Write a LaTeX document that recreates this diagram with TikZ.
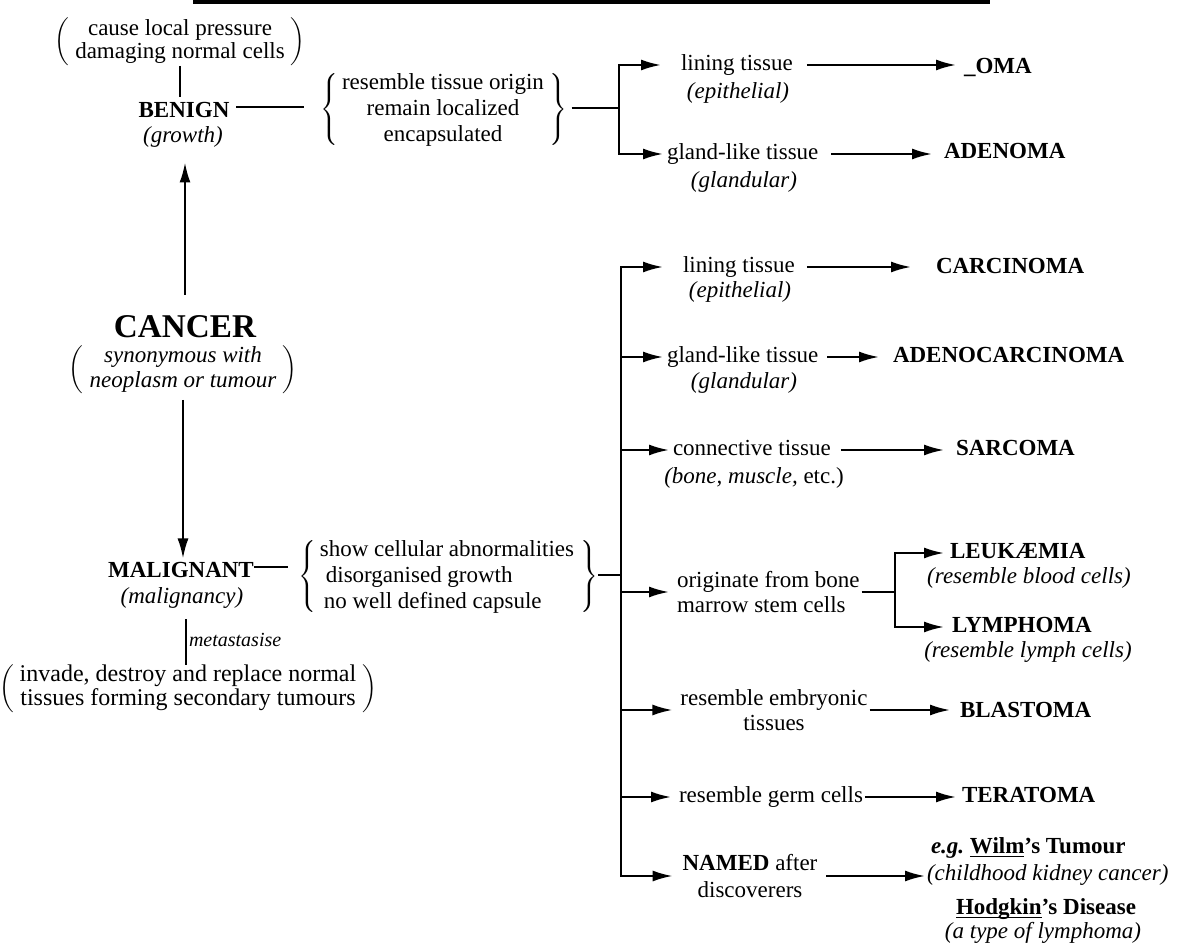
\documentclass[tikz,border=0pt]{standalone}
\usepackage{fontspec}
\setmainfont{Liberation Serif}
\usetikzlibrary{arrows.meta}
\newcommand{\parblk}[2]{\renewcommand{\arraystretch}{#1}$\left(\begin{tabular}{@{\hspace{3pt}}c@{\hspace{3pt}}}#2\end{tabular}\right)$}
\newcommand{\brcblk}[3]{\renewcommand{\arraystretch}{#1}$\left\{\begin{tabular}{@{\hspace{2pt}}#2@{\hspace{3pt}}}#3\end{tabular}\right\}$}
\newcommand{\ulbase}[1]{\underline{\smash{#1}}}
\begin{document}
\begin{tikzpicture}[x=0.5pt,y=-0.5pt,
  every node/.style={inner sep=0pt,outer sep=0pt},
  txt/.style={font=\fontsize{11.5}{13}\selectfont,text height=8pt,text depth=2.5pt},
  bld/.style={font=\fontsize{11.5}{13}\selectfont\bfseries,text height=8pt,text depth=2.5pt},
  itl/.style={font=\fontsize{11.5}{13}\selectfont\itshape,text height=8pt,text depth=2.5pt},
  blk/.style={font=\fontsize{11.5}{13}\selectfont},
  conn/.style={line width=1.1pt},
  arr/.style={line width=1.1pt,-{Latex[length=10pt,width=5.5pt]}},
  arrb/.style={line width=1.1pt,{Latex[length=10pt,width=5.5pt]}-{Latex[length=10pt,width=5.5pt]}},
]
\useasboundingbox (0,0) rectangle (1183,945);
\draw[line width=1.6pt] (193,2) -- (990,2);

% ---------- left column ----------
\node[blk] (cause) at (180,42) {\parblk{0.885}{cause local pressure\\damaging normal cells}};
\node[bld] (benign) at (184,112) {BENIGN};
\node[itl] (growth) at (183,137) {(growth)};
\node[font=\fontsize{16.6}{19}\selectfont\bfseries] (cancer) at (185,327) {CANCER};
\node[font=\fontsize{11.5}{13}\selectfont\itshape] (syn) at (183,370) {\parblk{0.96}{synonymous with\\neoplasm or tumour}};
\node[bld] (malig) at (181,572) {MALIGNANT};
\node[itl] (maligs) at (182,598) {(malignancy)};
\node[font=\fontsize{10}{12}\selectfont\itshape,anchor=west,text height=7pt,text depth=2pt] (meta) at (189,642) {metastasise};
\node[font=\fontsize{12}{13}\selectfont] (inv) at (188,689) {\parblk{0.885}{invade, destroy and replace normal\\tissues forming secondary tumours}};

% ---------- brace blocks ----------
\node[blk] (br1) at (444,110) {\brcblk{1}{c}{resemble tissue origin\\remain localized\\encapsulated}};
\node[blk] (br2) at (448,577) {\brcblk{1}{l}{show cellular abnormalities\\\hspace{3pt}disorganised growth\\\hspace{2pt}no well defined capsule}};

% ---------- junctions ----------
\coordinate (f1) at (619,108);
\coordinate (f2) at (621,575);
\coordinate (f3) at (895,590);

% ---------- benign branch ----------
\node[txt,anchor=west] (lin1) at (681,65) {lining tissue};
\node[itl] (lin1s) at (738,93) {(epithelial)};
\node[txt,anchor=west] (gl1) at (667,154) {gland-like tissue};
\node[itl] (gl1s) at (744,182) {(glandular)};
\node[bld,anchor=west] (oma) at (964,68) {\_OMA};
\node[bld,anchor=west] (aden) at (944,153) {ADENOMA};

% ---------- malignant branch ----------
\node[txt,anchor=west] (lin2) at (683,267) {lining tissue};
\node[itl] (lin2s) at (740,292) {(epithelial)};
\node[txt,anchor=west] (gl2) at (667,357) {gland-like tissue};
\node[itl] (gl2s) at (744,383) {(glandular)};
\node[txt,anchor=west] (con) at (673,450) {connective tissue};
\node[txt] (cons) at (754,478) {\textit{(bone, muscle,} etc.)};
\node[align=left,anchor=west,font=\fontsize{11.5}{12.5}\selectfont] (orig) at (677,592) {originate from bone\\marrow stem cells};
\node[align=center,font=\fontsize{11.5}{12.5}\selectfont] (emb) at (774,710) {resemble embryonic\\tissues};
\node[txt,anchor=west] (germ) at (679,797) {resemble germ cells};
\node[align=center,font=\fontsize{11.5}{13.5}\selectfont] (named) at (750,876) {\textbf{NAMED} after\\discoverers};

\node[bld,anchor=west] (carc) at (936,268) {CARCINOMA};
\node[bld,anchor=west] (adeno) at (893,357) {ADENOCARCINOMA};
\node[bld,anchor=west] (sarc) at (956,450) {SARCOMA};
\node[bld,anchor=west] (leuk) at (950,553) {LEUKÆMIA};
\node[itl] (leuks) at (1029,578) {(resemble blood cells)};
\node[bld,anchor=west] (lymph) at (952,627) {LYMPHOMA};
\node[itl] (lymphs) at (1028,652) {(resemble lymph cells)};
\node[bld,anchor=west] (blast) at (960,712) {BLASTOMA};
\node[bld,anchor=west] (tera) at (962,797) {TERATOMA};
\node[bld,anchor=west] (wilm) at (931,848) {\textit{e.g.}\ \ulbase{Wilm}'s Tumour};
\node[itl,anchor=west] (wilms) at (927,875) {(childhood kidney cancer)};
\node[bld] (hodg) at (1046,909) {\ulbase{Hodgkin}'s Disease};
\node[itl] (hodgs) at (1043,933) {(a type of lymphoma)};

% ---------- connectors: left ----------
\draw[conn,shorten >=2pt] (cause.south) -- (cause.south |- benign.north);
\draw[arr,shorten <=10.5pt,shorten >=7.5pt] (cancer.north) -- (cancer.north |- growth.south);
\draw[arr,shorten <=2.5pt,shorten >=1.5pt] (syn.south) -- (syn.south |- malig.north);
\draw[conn,shorten <=5.5pt] ([xshift=2pt]maligs.south) -- ([xshift=2pt]maligs.south |- inv.north);
\draw[conn,shorten <=3.5pt,shorten >=8pt] ([yshift=2.5pt]benign.east) -- ([yshift=2.5pt]benign.east -| br1.west);
\draw[conn,shorten <=2pt] (br1.east |- f1) -- (f1);
\draw[conn,shorten >=5pt] ([yshift=2.5pt]malig.east) -- ([yshift=2.5pt]malig.east -| br2.west);
\draw[conn] (br2.east |- f2) -- (f2);

% ---------- connectors: benign branch ----------
\draw[arrb,shorten <=10pt,shorten >=2pt] (lin1.west) -| (f1) |- (gl1.west);
\draw[arr,shorten <=7pt,shorten >=4pt] (lin1.east) -- (lin1.east -| oma.west);
\draw[arr,shorten <=6.5pt,shorten >=6pt] (gl1.east) -- (gl1.east -| aden.west);

% ---------- connectors: malignant branch ----------
\draw[arrb,shorten <=10pt,shorten >=5pt] (lin2.west) -| (f2) |- (named.west);
\draw[arr,shorten >=2pt] (f2 |- gl2.west) -- (gl2.west);
\draw[arr,shorten >=2pt] (f2 |- con.west) -- (con.west);
\draw[arr,shorten >=4pt] (f2 |- orig.west) -- (orig.west);
\draw[arr,shorten >=4pt] (f2 |- emb.west) -- (emb.west);
\draw[arr,shorten >=4pt] (f2 |- germ.west) -- (germ.west);

\draw[arr,shorten <=6pt,shorten >=12.5pt] (lin2.east) -- (lin2.east -| carc.west);
\draw[arr,shorten <=4.5pt,shorten >=7pt] (gl2.east) -- (gl2.east -| adeno.west);
\draw[arr,shorten <=5pt,shorten >=6pt] (con.east) -- (con.east -| sarc.west);
\draw[conn,shorten <=1pt] (orig.east) -- (orig.east -| f3);
\draw[arrb,shorten <=3pt,shorten >=4pt] (leuk.west) -| (f3) |- (lymph.west);
\draw[arr,shorten <=1pt,shorten >=5pt] (emb.east) -- (emb.east -| blast.west);
\draw[arr,shorten <=1pt,shorten >=3pt] (germ.east) -- (germ.east -| tera.west);
\draw[arr,shorten <=4.5pt,shorten >=1pt] (named.east) -- (named.east -| wilms.west);
\end{tikzpicture}
\end{document}
